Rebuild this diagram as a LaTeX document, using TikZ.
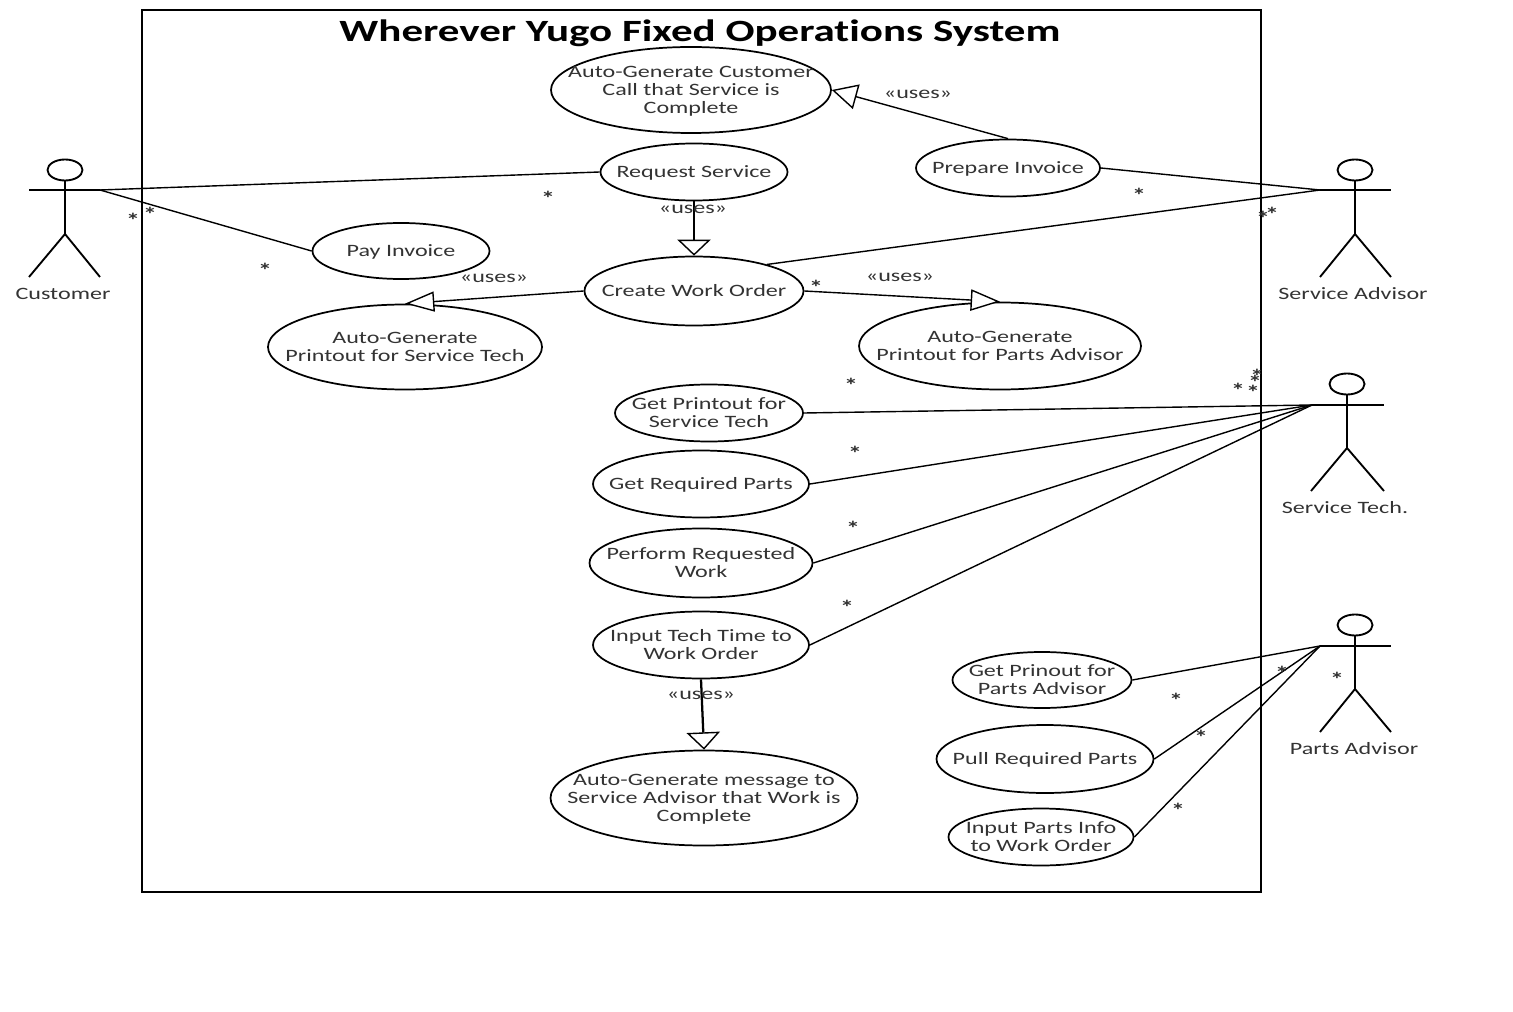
\documentclass[tikz,border=0pt]{standalone}
\usepackage{fontspec}
\setmainfont[FakeStretch=1.39,Ligatures=NoCommon]{Carlito}
\usetikzlibrary{shapes.geometric,arrows.meta}
\definecolor{txt}{gray}{0.2}
\tikzset{
  uc/.style={ellipse,draw,line width=1.3pt,inner sep=0pt,text=txt,font=\fontsize{13}{13.6}\selectfont},
  lnk/.style={line width=1.05pt},
  usesl/.style={text=txt,inner sep=0pt,font=\fontsize{13}{14}\selectfont},
  star/.style={text=txt,inner sep=0pt,font=\fontsize{15}{16}\selectfont\bfseries},
  actl/.style={text=txt,inner sep=0pt,font=\fontsize{13}{14}\selectfont},
}
\newcommand\UC[6]{\node[uc,minimum width=#4*.75pt,minimum height=#5*.75pt] (#1) at (#2,#3) {\makebox[0pt]{\smash{\raisebox{-4.6pt}{\begin{tabular}{@{}c@{}}#6\end{tabular}}}}};}
\begin{document}
\begin{tikzpicture}[x=.75pt,y=-.75pt]
\useasboundingbox (0,0) rectangle (1513,1012);
\fill[white] (0,0) rectangle (1513,1012);
\node[draw,line width=1.5pt,minimum width=1119*.75pt,minimum height=882*.75pt,inner sep=0pt] (sys) at (701.5,451) {};
\node[inner sep=0pt,font=\fontsize{23.2}{26}\selectfont\bfseries] (title) at (700,33.5) {Wherever Yugo Fixed Operations System};

\UC{c1}{691}{90}{280}{86}{Auto-Generate Customer\\Call that Service is\\Complete}
\UC{req}{694}{172}{187}{57}{Request Service}
\UC{prep}{1008}{168}{184}{57}{Prepare Invoice}
\UC{pay}{401}{251}{177}{56}{Pay Invoice}
\UC{cwo}{694}{291}{219}{69}{Create Work Order}
\UC{atech}{405}{347}{274}{85}{Auto-Generate\\Printout for Service Tech}
\UC{apart}{1000}{346}{282}{87}{Auto-Generate\\Printout for Parts Advisor}
\UC{gtech}{709}{413}{188}{57}{Get Printout for\\Service Tech}
\UC{gparts}{701}{484}{216}{67}{Get Required Parts}
\UC{perf}{701}{563}{223}{69}{Perform Requested\\Work}
\UC{itime}{701}{645}{216}{67}{Input Tech Time to\\Work Order}
\UC{msg}{704}{798}{307}{95}{Auto-Generate message to\\Service Advisor that Work is\\Complete}
\UC{gprin}{1042}{680}{179}{56}{Get Prinout for\\Parts Advisor}
\UC{pull}{1045}{759}{217}{68}{Pull Required Parts}
\UC{ipart}{1041}{837}{185}{57}{Input Parts Info\\to Work Order}

% actors
\begin{scope}[shift={(65,190)}]
  \draw[line width=1.4pt] (0,-20) ellipse [x radius=17.5, y radius=10.5];
  \draw[line width=1.7pt] (0,-9) -- (0,44) coordinate (custhip);
  \draw[line width=1.1pt] (-36,0) -- (35,0) coordinate (cust);
  \draw[line width=1.4pt] (-36,87) -- (custhip) -- (35,87);
\end{scope}
\node[actl] (custlab) at (63,294) {Customer};
\begin{scope}[shift={(1355,190)}]
  \draw[line width=1.4pt] (0,-20) ellipse [x radius=17.5, y radius=10.5];
  \draw[line width=1.7pt] (0,-9) -- (0,44) coordinate (advhip);
  \draw[line width=1.1pt] (-35,0) coordinate (adv) -- (36,0);
  \draw[line width=1.4pt] (-35,87) -- (advhip) -- (36,87);
\end{scope}
\node[actl] (advlab) at (1353,294) {Service Advisor};
\begin{scope}[shift={(1347,405)}]
  \draw[line width=1.4pt] (0,-21) ellipse [x radius=17.5, y radius=10.5];
  \draw[line width=1.7pt] (0,-10) -- (0,43) coordinate (techhip);
  \draw[line width=1.1pt] (-35,0) coordinate (tech) -- (37,0);
  \draw[line width=1.4pt] (-36,86) -- (techhip) -- (37,86);
\end{scope}
\node[actl] (techlab) at (1345,508) {Service Tech.};
\begin{scope}[shift={(1355,646)}]
  \draw[line width=1.4pt] (0,-21) ellipse [x radius=17.5, y radius=10.5];
  \draw[line width=1.7pt] (0,-10) -- (0,43) coordinate (parthip);
  \draw[line width=1.1pt] (-35,0) coordinate (part) -- (36,0);
  \draw[line width=1.4pt] (-35,86) -- (parthip) -- (36,86);
\end{scope}
\node[actl] (partlab) at (1354,749) {Parts Advisor};

% associations
\draw[lnk] (cust) -- (req.west);
\draw[lnk] (cust) -- (pay.west);
\draw[lnk] (prep.east) -- (adv);
\draw[lnk] (cwo.20) -- (adv);
\draw[lnk] (gtech.east) -- (tech);
\draw[lnk] (gparts.east) -- (tech);
\draw[lnk] (perf.east) -- (tech);
\draw[lnk] (itime.east) -- (tech);
\draw[lnk] (gprin.east) -- (part);
\draw[lnk] (pull.east) -- (part);
\draw[lnk] (ipart.east) -- (part);

% uses
\draw[line width=1.05pt,-{Triangle[length=19pt,width=19pt,fill=white]}] (prep.north) -- (c1.east);
\draw[line width=1.7pt,-{Triangle[length=12pt,width=25pt,fill=white,line width=1.05pt]}] (req.south) -- (cwo.north);
\draw[line width=1.05pt,-{Triangle[length=22pt,width=15pt,fill=white]}] (cwo.west) -- (atech.north);
\draw[line width=1.05pt,-{Triangle[length=22pt,width=16pt,fill=white]}] (cwo.east) -- (apart.north);
\draw[line width=1.7pt,-{Triangle[length=13pt,width=25pt,fill=white,line width=1.05pt]}] (itime.south) -- (msg.north);

\node[usesl] (u1) at (918,94.5) {«uses»};
\node[usesl] (u2) at (693,209.5) {«uses»};
\node[usesl] (u3) at (494,278.5) {«uses»};
\node[usesl] (u4) at (900,277.5) {«uses»};
\node[usesl] (u5) at (701,695.5) {«uses»};

\foreach \x/\y [count=\i] in {133/220,150/214,265/270,548/198,816/287,851/385,855/453,853/528,847/607,1139/195,1263/218,1272/214,1238/390,1253/392,1255/382,1257/376,1176/700,1201/737,1178/810,1282/673,1337/679}
  \node[star] (s\i) at (\x,\y) {*};
\end{tikzpicture}
\end{document}
